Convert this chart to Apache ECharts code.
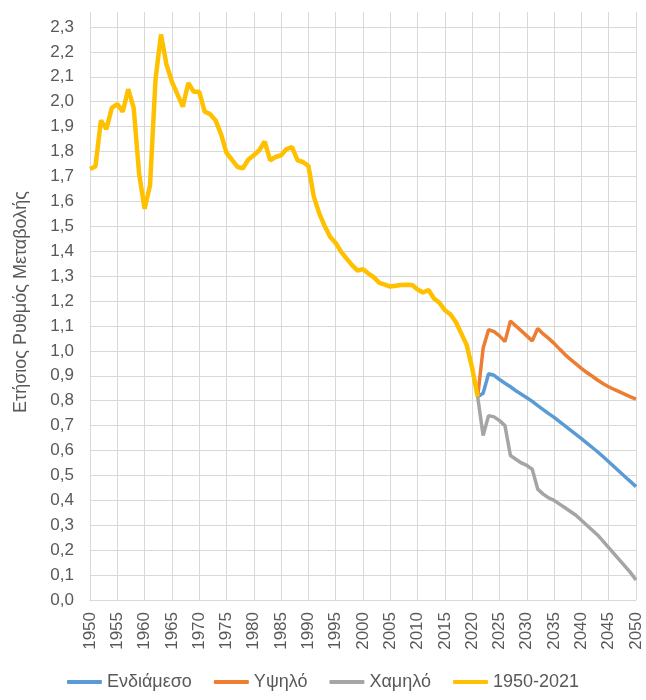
<!DOCTYPE html>
<html>
<head>
<meta charset="utf-8">
<script src="https://cdn.jsdelivr.net/npm/echarts@6/dist/echarts.min.js"></script>
<style>
html,body{margin:0;padding:0;background:#fff;}
#chart{width:646px;height:700px;}
</style>
</head>
<body>
<div id="chart"></div>
<script>
// Categories: years 1950..2050
var firstYear = 1950, lastYear = 2050;
var years = [];
for (var y = firstYear; y <= lastYear; y++) years.push(String(y));

var seriesNames = ['Ενδιάμεσο', 'Υψηλό', 'Χαμηλό', '1950-2021'];
var yAxisTitle = 'Ετήσιος Ρυθμός Μεταβολής';

// Historical 1950-2021
var hist = [
  1.73, 1.74, 1.925, 1.89, 1.975, 1.99, 1.96, 2.05, 1.975, 1.71,
  1.57, 1.665, 2.09, 2.27, 2.15, 2.08, 2.03, 1.98, 2.075, 2.04,
  2.04, 1.96, 1.95, 1.925, 1.87, 1.795, 1.767, 1.738, 1.733, 1.768,
  1.785, 1.805, 1.84, 1.765, 1.778, 1.785, 1.81, 1.818, 1.765, 1.758,
  1.742, 1.618, 1.551, 1.50, 1.457, 1.433, 1.397, 1.37, 1.344, 1.322,
  1.328, 1.31, 1.295, 1.273, 1.266, 1.258, 1.261, 1.264, 1.265, 1.264,
  1.246, 1.234, 1.244, 1.21, 1.193, 1.163, 1.147, 1.116, 1.07, 1.023,
  0.93, 0.816
];
var histStart = 1950;

// Projections 2021-2050
var projStart = 2021;
var medium = [
  0.816, 0.83, 0.908, 0.902, 0.885, 0.87, 0.856, 0.84, 0.826, 0.812,
  0.797, 0.78, 0.764, 0.748, 0.733, 0.716, 0.699, 0.682, 0.665, 0.648,
  0.63, 0.612, 0.594, 0.575, 0.555, 0.535, 0.515, 0.495, 0.475, 0.455
];
var high = [
  0.816, 1.01, 1.085, 1.077, 1.06, 1.037, 1.12, 1.10, 1.08, 1.06,
  1.04, 1.09, 1.068, 1.05, 1.03, 1.007, 0.985, 0.966, 0.948, 0.93,
  0.913, 0.898, 0.882, 0.868, 0.856, 0.845, 0.835, 0.825, 0.815, 0.806
];
var low = [
  0.816, 0.66, 0.74, 0.735, 0.72, 0.70, 0.58, 0.565, 0.55, 0.54,
  0.525, 0.445, 0.425, 0.41, 0.40, 0.385, 0.37, 0.355, 0.34, 0.32,
  0.30, 0.28, 0.26, 0.235, 0.21, 0.185, 0.16, 0.135, 0.11, 0.08
];

function place(arr, start) {
  var out = [];
  for (var i = 0; i < years.length; i++) {
    var idx = (firstYear + i) - start;
    out.push(idx >= 0 && idx < arr.length ? arr[idx] : null);
  }
  return out;
}

var colors = ['#5B9BD5', '#ED7D31', '#A5A5A5', '#FFC000'];
var txt = '#595959';
var gridColor = '#d9d9d9';
var font = '"Liberation Sans", Arial, sans-serif';

var chart = echarts.init(document.getElementById('chart'), null, {renderer: 'canvas'});
chart.setOption({
  animation: false,
  color: colors,
  textStyle: {fontFamily: font},
  grid: {left: 90, right: 10, top: 12, bottom: 100, containLabel: false},
  legend: {
    top: 668,
    left: 'center',
    icon: 'roundRect',
    itemWidth: 35,
    itemHeight: 4,
    itemGap: 22,
    textStyle: {color: txt, fontSize: 18, fontFamily: font},
    data: seriesNames
  },
  xAxis: {
    type: 'category',
    data: years,
    boundaryGap: false,
    axisLine: {show: true, lineStyle: {color: gridColor, width: 1}},
    axisTick: {show: false},
    axisLabel: {interval: 4, rotate: 90, color: txt, fontSize: 17, margin: 12, fontFamily: font},
    splitLine: {show: true, interval: 4, lineStyle: {color: gridColor, width: 1}}
  },
  yAxis: {
    type: 'value',
    min: 0,
    max: 2.36,
    interval: 0.1,
    axisLine: {show: false},
    axisTick: {show: false},
    axisLabel: {
      color: txt, fontSize: 17, margin: 16, fontFamily: font,
      showMaxLabel: false,
      formatter: function (v) { return v.toFixed(1).replace('.', ','); }
    },
    splitLine: {show: true, showMaxLine: false, lineStyle: {color: gridColor, width: 1}}
  },
  graphic: [{
    type: 'text',
    x: 21, y: 302,
    rotation: Math.PI / 2,
    style: {text: yAxisTitle, fill: txt, fontSize: 18, fontFamily: font, align: 'center', verticalAlign: 'middle'}
  }],
  series: [
    {name: seriesNames[0], type: 'line', data: place(medium, projStart), showSymbol: false, lineStyle: {width: 3.5, color: colors[0]}, itemStyle: {color: colors[0]}},
    {name: seriesNames[1], type: 'line', data: place(high, projStart), showSymbol: false, lineStyle: {width: 3.5, color: colors[1]}, itemStyle: {color: colors[1]}},
    {name: seriesNames[2], type: 'line', data: place(low, projStart), showSymbol: false, lineStyle: {width: 3.5, color: colors[2]}, itemStyle: {color: colors[2]}},
    {name: seriesNames[3], type: 'line', data: place(hist, histStart), showSymbol: false, lineStyle: {width: 4.5, color: colors[3]}, itemStyle: {color: colors[3]}}
  ]
});
</script>
</body>
</html>
